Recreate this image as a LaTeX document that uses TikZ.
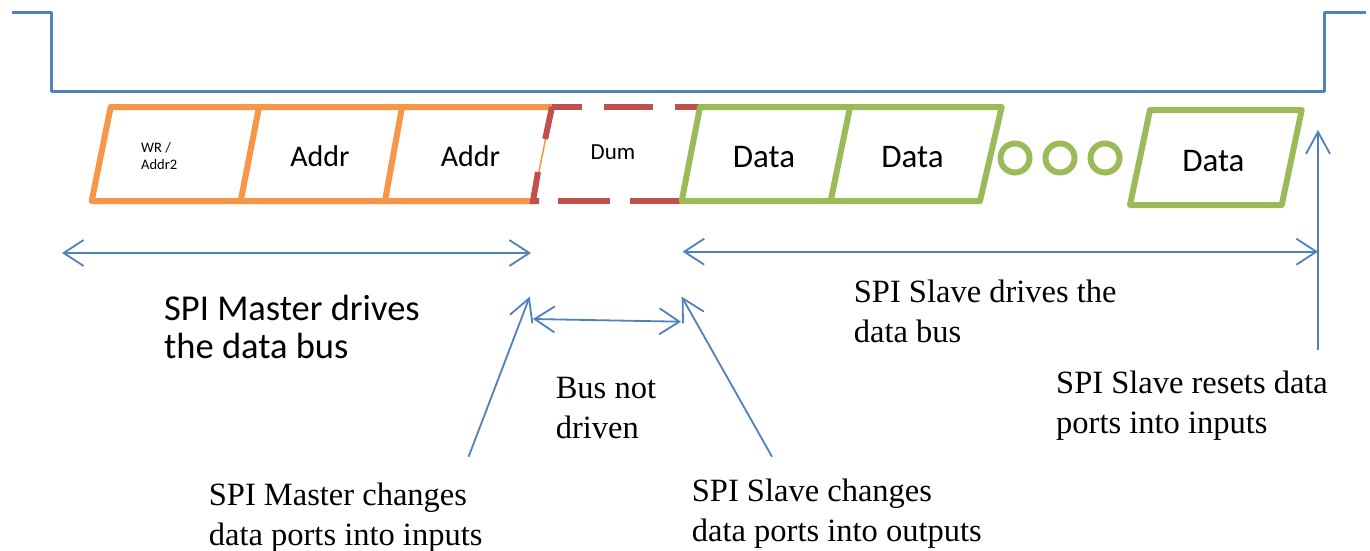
\documentclass[tikz,border=0pt]{standalone}
\usepackage{fontspec}
\setmainfont{Liberation Serif}
\newfontfamily\calfont{Carlito}
\usetikzlibrary{arrows.meta}
\definecolor{csblue}{HTML}{4F81BD}
\definecolor{aorange}{HTML}{F79646}
\definecolor{dred}{HTML}{C0504D}
\definecolor{dgreen}{HTML}{9BBB59}
\begin{document}
\begin{tikzpicture}[x=1pt,y=-1pt,
  boxline/.style={line width=6pt,line join=round},
  dumdash/.style={line width=6pt,dred,line cap=butt},
  barb/.style={csblue,line width=1.8pt,{Straight Barb[length=20pt,width=26pt]}-{Straight Barb[length=20pt,width=26pt]}},
  pointer/.style={csblue,line width=1.8pt,-{Straight Barb[length=22pt,width=24pt]}},
  boxlbl/.style={inner sep=0pt,anchor=base},
  note/.style={inner sep=0pt,anchor=base west,align=left,font=\fontsize{32.5}{40}\selectfont},
  cnote/.style={inner sep=0pt,anchor=base west,align=left,font=\calfont\fontsize{36.5}{38}\selectfont}]
\useasboundingbox (0,0) rectangle (1370,551);
\fill[white] (0,0) rectangle (1370,551);
% chip select line
\draw[csblue,line width=3pt,line join=round] (11.7,12.3) -- (51,12.3) -- (51,91.7) -- (1324,91.7) -- (1324,12.3) -- (1366,12.3);
% orange address bytes
\draw[aorange,line width=1.5pt] (552,107) -- (533,201);
\draw[aorange,boxline] (533,201) -- (91.7,201) -- (110.7,107) -- (552,107);
\draw[aorange,boxline] (259,107) -- (240.7,201);
\draw[aorange,boxline] (402,107) -- (385,201);
% red dashed dummy byte
\draw[dumdash] (552,107) -- (582,107);
\draw[dumdash] (604,107) -- (653,107);
\draw[dumdash] (675,107) -- (700,107);
\draw[dumdash] (552,107) -- (545.2,139);
\draw[dumdash] (538,172) -- (533,201) -- (539,201);
\draw[dumdash] (558,201) -- (610,201);
\draw[dumdash] (630,201) -- (682,201);
% green data bytes
\draw[dgreen,boxline] (700,107) -- (1001.7,107) -- (980,201) -- (681.7,201) -- cycle;
\draw[dgreen,boxline] (850,107) -- (830.7,201);
\draw[dgreen,line width=6pt] (1015,158) circle[radius=14.5pt];
\draw[dgreen,line width=6pt] (1060,158) circle[radius=14.5pt];
\draw[dgreen,line width=6pt] (1105,158) circle[radius=14.5pt];
\draw[dgreen,boxline] (1150,110) -- (1301.7,110) -- (1281.7,205) -- (1130,205) -- cycle;
% byte labels
\node[inner sep=0pt,anchor=base west,align=left,font=\calfont\fontsize{14.5}{16.7}\selectfont] (wr) at (141,169) {WR /\\Addr2};
\node[boxlbl,font=\calfont\fontsize{30}{36}\selectfont] (addr1) at (320,166.7) {Addr};
\node[boxlbl,font=\calfont\fontsize{30}{36}\selectfont] (addr2) at (470.5,166.7) {Addr};
\node[boxlbl,font=\calfont\fontsize{23}{28}\selectfont] (dum) at (613,159) {Dum};
\node[boxlbl,font=\calfont\fontsize{33}{38}\selectfont] (data1) at (764,167.7) {Data};
\node[boxlbl,font=\calfont\fontsize{33}{38}\selectfont] (data2) at (912.5,167.7) {Data};
\node[boxlbl,font=\calfont\fontsize{33}{38}\selectfont] (data3) at (1213.4,171.7) {Data};
% arrow end points
\coordinate (mL) at (62,253);
\coordinate (mR) at (531,253);
\coordinate (sL) at (682.6,251.7);
\coordinate (sR) at (1318,251.7);
\coordinate (rB) at (1318,350);
\coordinate (rT) at (1318,130);
\coordinate (nL) at (533,319);
\coordinate (nR) at (681,321.7);
\coordinate (mpB) at (468.6,456.7);
\coordinate (mpT) at (529.7,296.7);
\coordinate (spB) at (772,456.7);
\coordinate (spT) at (681.7,296.7);
\draw[barb] (mL) -- (mR);
\draw[barb] (sL) -- (sR);
\draw[pointer] (rB) -- (rT);
\draw[barb] (nL) -- (nR);
\draw[pointer] (mpB) -- (mpT);
\draw[pointer] (spB) -- (spT);
% notes (anchor = baseline of last line)
\node[cnote] (mdrive) at (164,358) {SPI Master drives\\the data bus};
\node[note] (bnd) at (555.6,438) {Bus not\\driven};
\node[note] (mchg) at (208.7,545) {SPI Master changes\\data ports into inputs};
\node[note] (schg) at (691.7,541.7) {SPI Slave changes\\data ports into outputs};
\node[note] (sdrive) at (853.7,342.7) {SPI Slave drives the\\data bus};
\node[note] (sreset) at (1056,433) {SPI Slave resets data\\ports into inputs};
\end{tikzpicture}
\end{document}
